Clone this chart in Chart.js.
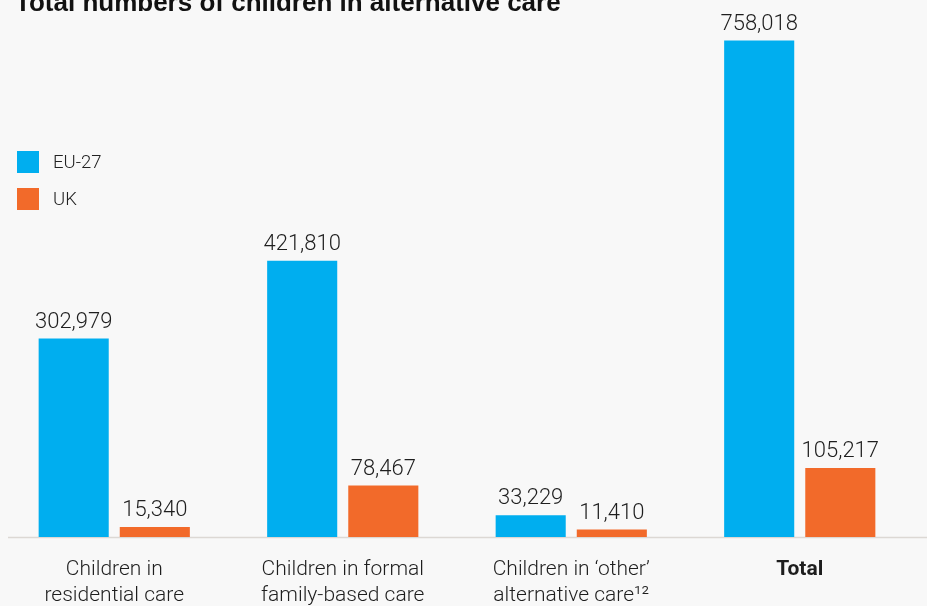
<!DOCTYPE html>
<html>
<head>
<meta charset="utf-8">
<script src="https://cdn.jsdelivr.net/npm/chart.js@4.4.0/dist/chart.umd.min.js"></script>
<style>
  html, body { margin: 0; padding: 0; background: #f8f8f8; overflow: hidden; }
  #wrap { position: relative; width: 927px; height: 606px; }
  #title {
    position: absolute; left: 15px; top: -13px; margin: 0;
    font: bold 26px "Liberation Sans", Arial, sans-serif; color: #111;
    white-space: nowrap;
  }
  #legend { position: absolute; left: 17px; top: 151px; font: 300 18.5px Roboto, sans-serif; color: #222; }
  .item { display: flex; align-items: center; height: 22px; margin-bottom: 15px; }
  .swatch { width: 22px; height: 22px; margin-right: 14px; }
</style>
</head>
<body>
<div id="wrap">
  <canvas id="AltCare"></canvas>
  <div id="title">Total numbers of children in alternative care</div>
  <div id="legend"></div>
</div>
<script>
// Chart values
const categories = [
    ['Children in', 'residential care'],
    ['Children in formal', 'family-based care'],
    ['Children in \u2018other\u2019', 'alternative care\u00B9\u00B2'],
    'Total'
];
const seriesNames = ['EU-27', 'UK'];
const eu27Values = [302979, 421810, 33229, 758018];
const ukValues = [15340, 78467, 11410, 105217];
const seriesColors = ['#00aeef', '#f26a2a'];

// HTML legend
const legendBox = document.getElementById('legend');
seriesNames.forEach((name, i) => {
    const row = document.createElement('div');
    row.className = 'item';
    row.innerHTML = '<span class="swatch" style="background:' + seriesColors[i] + '"></span>' + name;
    legendBox.appendChild(row);
});

// Value labels above each bar
const valueLabels = {
    id: 'valueLabels',
    afterDatasetsDraw(chart) {
        const ctx = chart.ctx;
        ctx.save();
        ctx.font = '300 22px Roboto, sans-serif';
        ctx.fillStyle = '#1e1e1e';
        ctx.textAlign = 'center';
        ctx.textBaseline = 'alphabetic';
        chart.data.datasets.forEach((ds, i) => {
            chart.getDatasetMeta(i).data.forEach((bar, j) => {
                ctx.fillText(ds.data[j].toLocaleString('en-US'), bar.x, bar.y - 11);
            });
        });
        ctx.restore();
    }
};

// Baseline running across the whole width
const baseLine = {
    id: 'baseLine',
    beforeDatasetsDraw(chart) {
        const ctx = chart.ctx;
        const y = chart.scales.y.getPixelForValue(0);
        ctx.save();
        ctx.strokeStyle = '#dcd8d4';
        ctx.lineWidth = 1.5;
        ctx.beginPath();
        ctx.moveTo(8, y + 0.5);
        ctx.lineTo(chart.width, y + 0.5);
        ctx.stroke();
        ctx.restore();
    }
};

const altCareData = {
    labels: categories,
    datasets: [{
        label: seriesNames[0],
        data: eu27Values,
        backgroundColor: seriesColors[0],
        categoryPercentage: 0.71,
        barPercentage: 0.864
    }, {
        label: seriesNames[1],
        data: ukValues,
        backgroundColor: seriesColors[1],
        categoryPercentage: 0.71,
        barPercentage: 0.864
    }]
};

const altCareConfig = {
    type: 'bar',
    data: altCareData,
    options: {
        responsive: false,
        animation: false,
        layout: { padding: { left: 0, right: 13, top: 0, bottom: 0 } },
        plugins: {
            legend: { display: false },
            tooltip: { enabled: false }
        },
        scales: {
            y: {
                display: false,
                min: 0,
                max: 820000
            },
            x: {
                grid: { display: false },
                border: { display: false },
                afterFit(scale) { scale.height = 69; },
                ticks: {
                    padding: 12,
                    color: '#1e1e1e',
                    maxRotation: 0,
                    autoSkip: false,
                    font: (c) => ({
                        family: 'Roboto, sans-serif',
                        size: 21,
                        lineHeight: 1.24,
                        weight: c.index === 3 ? 'bold' : '300'
                    })
                }
            }
        }
    },
    plugins: [baseLine, valueLabels]
};

const cv = document.getElementById('AltCare');
cv.width = 927;
cv.height = 606;
const altCareChart = new Chart(cv, altCareConfig);
</script>
</body>
</html>
